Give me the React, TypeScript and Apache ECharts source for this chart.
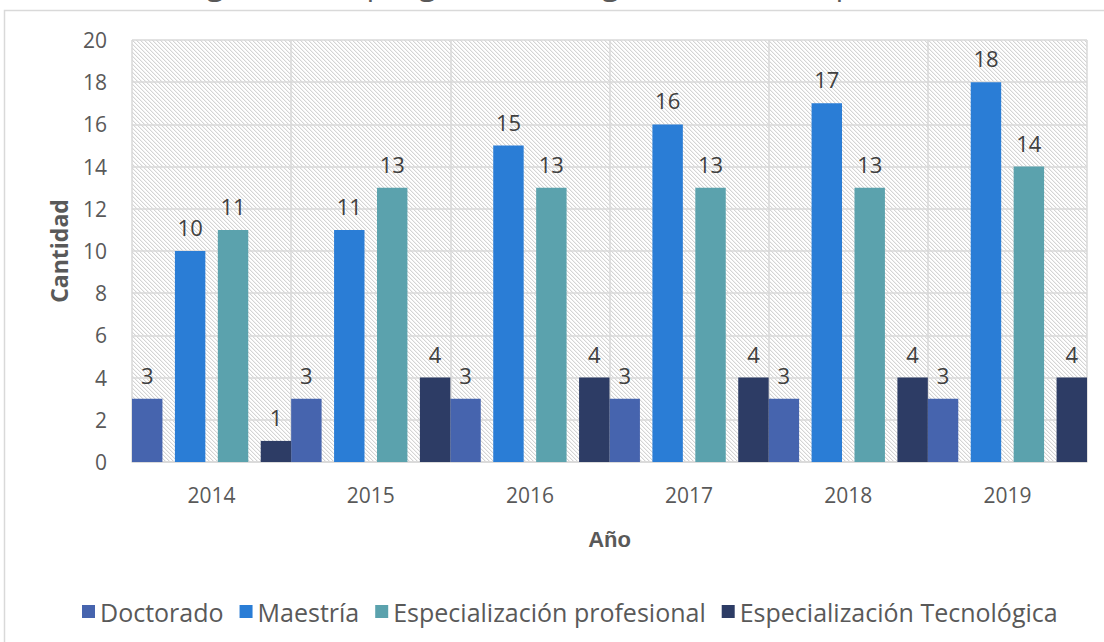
import React, { useEffect, useRef } from "react";
import * as echarts from "echarts";

const years = ["2014", "2015", "2016", "2017", "2018", "2019"];
const seriesNames = [
  "Doctorado",
  "Maestría",
  "Especialización profesional",
  "Especialización Tecnológica",
];
const doctorado = [3, 3, 3, 3, 3, 3];
const maestria = [10, 11, 15, 16, 17, 18];
const espProfesional = [11, 13, 13, 13, 13, 14];
const espTecnologica = [1, 4, 4, 4, 4, 4];
const colors = ["#4664AE", "#2A7DD6", "#5BA2AD", "#2D3C65"];
const titleText = "Gráfica 1. Programas de posgrado con registro calificado por año";

function makeHatch() {
  const c = document.createElement("canvas");
  c.width = 8;
  c.height = 8;
  const ctx = c.getContext("2d")!;
  ctx.fillStyle = "#ffffff";
  ctx.fillRect(0, 0, 8, 8);
  for (let y = 0; y < 8; y++) {
    for (let x = 0; x < 8; x++) {
      const d = (((x - y) % 4) + 4) % 4;
      if (d === 0) {
        ctx.fillStyle = "#d4d4d4";
        ctx.fillRect(x, y, 1, 1);
      } else if (d === 1) {
        ctx.fillStyle = "#f1f1f1";
        ctx.fillRect(x, y, 1, 1);
      }
    }
  }
  return c;
}

export default function App() {
  const ref = useRef<HTMLDivElement>(null);
  useEffect(() => {
    if (!ref.current) return;
    const chart = echarts.init(ref.current, null, { renderer: "svg" });
    const font = "'Open Sans', 'Noto Sans', sans-serif";
    const hatch = makeHatch();
    const values = [doctorado, maestria, espProfesional, espTecnologica];
    chart.setOption({
      animation: false,
      textStyle: { fontFamily: font },
      graphic: [
        {
          type: "rect",
          shape: { x: 4.5, y: 10.5, width: 1300, height: 800 },
          style: { fill: "none", stroke: "#d9d9d9", lineWidth: 1.5 },
          silent: true,
        },
        {
          type: "text",
          x: 12,
          y: -33,
          style: {
            text: titleText,
            fontSize: 31,
            fontFamily: font,
            fill: "#595959",
            verticalAlign: "top",
          },
          silent: true,
        },
      ],
      legend: {
        left: 77,
        top: 594,
        icon: "rect",
        itemWidth: 13,
        itemHeight: 13,
        itemGap: 16,
        textStyle: { fontSize: 25, color: "#595959", fontFamily: font },
        data: seriesNames,
      },
      grid: {
        left: 132,
        top: 40,
        right: 17,
        bottom: 180,
        show: true,
        borderWidth: 0,
        backgroundColor: {
          image: hatch,
          repeat: "repeat",
          imageWidth: 8,
          imageHeight: 8,
        } as any,
      },
      xAxis: {
        type: "category",
        data: years,
        name: "Año",
        nameLocation: "middle",
        nameGap: 66,
        nameTextStyle: {
          fontSize: 22,
          fontWeight: "bold",
          color: "#595959",
          fontFamily: "'Liberation Sans', Arial, sans-serif",
        },
        axisLine: { show: true, lineStyle: { color: "#d9d9d9", width: 1.5 } },
        axisTick: { show: false },
        axisLabel: { fontSize: 21, color: "#595959", margin: 22 },
        splitLine: {
          show: true,
          interval: 0,
          lineStyle: { color: "#d9d9d9", width: 1.5 },
        },
      },
      yAxis: {
        type: "value",
        min: 0,
        max: 20,
        interval: 2,
        name: "Cantidad",
        nameLocation: "middle",
        nameGap: 62,
        nameTextStyle: { fontSize: 23, fontWeight: "bold", color: "#595959" },
        axisLine: { show: false },
        axisTick: { show: false },
        axisLabel: { fontSize: 21, color: "#595959", margin: 25 },
        splitLine: { lineStyle: { color: "#d9d9d9", width: 1.5 } },
      },
      series: seriesNames.map((name, i) => ({
        name,
        type: "bar",
        data: values[i],
        barGap: "41%",
        barCategoryGap: 0,
        itemStyle: { color: colors[i] },
        label: {
          show: true,
          position: "top",
          distance: 13,
          fontSize: 22,
          color: "#404040",
          fontFamily: font,
        },
      })),
    });
    return () => chart.dispose();
  }, []);
  return (
    <div
      ref={ref}
      style={{ position: "absolute", left: 0, top: 0, width: 1104, height: 642 }}
    />
  );
}
